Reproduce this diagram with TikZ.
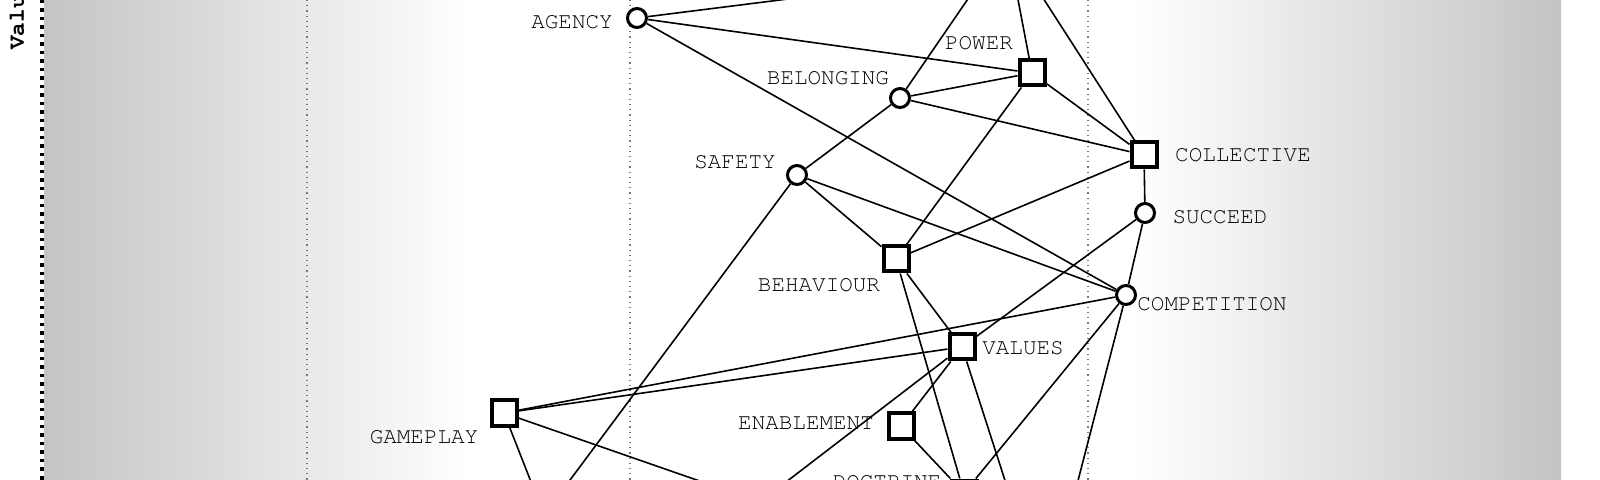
\documentclass[tikz,border=0pt]{standalone}
\usepackage[T1]{fontenc}
\usepackage{courier}
\usepackage{xcolor}
\usetikzlibrary{positioning}
\definecolor{bandgray}{RGB}{196, 196, 196}
\definecolor{guidegray}{RGB}{120, 120, 120}

\tikzset{
	valnode/.style={circle, draw, line width=1.5pt, fill=white, minimum size=9.5pt, inner sep=0pt},
	dimnode/.style={rectangle, draw, line width=2pt, fill=white, minimum size=12.5pt, inner sep=0pt},
	lbl/.style={font=\fontsize{11.3}{13}\selectfont\ttfamily, inner sep=0pt},
	link/.style={line width=0.8pt},
	guide/.style={guidegray, line width=0.6pt, dash pattern=on 0.6pt off 2pt}
}

\begin{document}
\begin{tikzpicture}[x=0.5pt, y=-0.5pt]
			\useasboundingbox (0,0) rectangle (1600,480);
			\clip (0,0) rectangle (1600,480);

			% Background bands (gray fading to the white middle)
			\shade[left color=bandgray, right color=white] (44,0) rectangle (470,480);
			\shade[left color=white, right color=bandgray] (1133,0) rectangle (1561,480);

			% Column guides
			\foreach \gx in {307,630,1088}
				\draw[guide] (\gx,0) -- (\gx,480);
			\draw[line width=2pt, dash pattern=on 1.75pt off 2.5pt] (42,0) -- (42,480);
			\node[lbl, font=\fontsize{11.3}{13}\selectfont\ttfamily\bfseries, rotate=90, anchor=west] (axisLbl) at (17,50) {Valu};

			% Value nodes (circles)
			\node[valnode] (agency) at (637,18) {};
			\node[valnode] (belonging) at (900,98) {};
			\node[valnode] (safety) at (797,175) {};
			\node[valnode] (succeed) at (1145,213) {};
			\node[valnode] (competition) at (1126,295) {};

			% Dimension nodes (squares)
			\node[dimnode] (power) at (1032,73) {};
			\node[dimnode] (collective) at (1144,155) {};
			\node[dimnode] (behaviour) at (896,259) {};
			\node[dimnode] (values) at (962,347) {};
			\node[dimnode] (enablement) at (901,426) {};
			\node[dimnode] (gameplay) at (504,413) {};
			\node[dimnode] (doctrine) at (964,493) {};

			% Labels
			\node[lbl] (agencyLbl) at (572,22) {AGENCY};
			\node[lbl] (belongingLbl) at (828,78) {BELONGING};
			\node[lbl] (powerLbl) at (979,43) {POWER};
			\node[lbl] (safetyLbl) at (735,162) {SAFETY};
			\node[lbl] (collectiveLbl) at (1243,155) {COLLECTIVE};
			\node[lbl] (succeedLbl) at (1220,217) {SUCCEED};
			\node[lbl] (competitionLbl) at (1212,304) {COMPETITION};
			\node[lbl] (behaviourLbl) at (819,285) {BEHAVIOUR};
			\node[lbl] (valuesLbl) at (1023,348) {VALUES};
			\node[lbl] (enablementLbl) at (806,423) {ENABLEMENT};
			\node[lbl] (gameplayLbl) at (424,437) {GAMEPLAY};
			\node[lbl] (doctrineLbl) at (887,482) {DOCTRINE};

			% Ends of links leaving the frame
			\coordinate (topA) at (923,-18);
			\coordinate (topB) at (1007,-58);
			\coordinate (botA) at (544,515);
			\coordinate (botB) at (760,502);
			\coordinate (botC) at (1020,527);
			\coordinate (botD) at (1066,527);

			% Links
			\foreach \a/\b in {agency/topA, agency/power, agency/competition,
				belonging/topB, belonging/power, belonging/collective, belonging/safety,
				power/topB, power/collective, power/behaviour,
				collective/topB, collective/succeed, collective/behaviour,
				succeed/values, succeed/competition,
				safety/behaviour, safety/competition, safety/botA,
				behaviour/values, behaviour/doctrine,
				competition/gameplay, competition/doctrine, competition/botD,
				values/gameplay, values/enablement, values/botB, values/botC,
				enablement/doctrine, gameplay/botA, gameplay/botB}
				\draw[link] (\a) -- (\b);

		\end{tikzpicture}
\end{document}
